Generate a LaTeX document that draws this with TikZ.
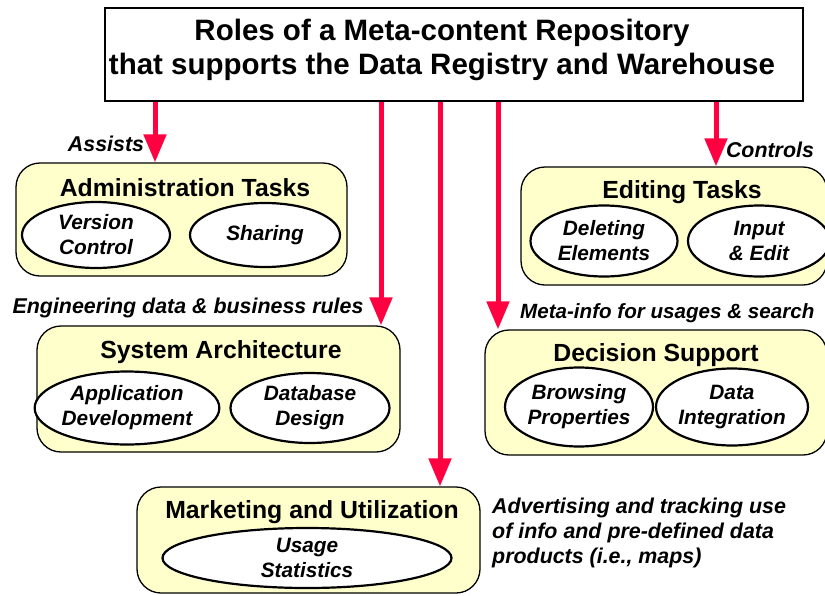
\documentclass[tikz,border=0pt]{standalone}
\usepackage{fontspec}
\setmainfont{Liberation Sans}
\usetikzlibrary{shapes.geometric,arrows.meta}
\definecolor{boxfill}{RGB}{255,255,204}
\definecolor{arrowred}{RGB}{255,0,64}
\begin{document}
\begin{tikzpicture}[x=1pt,y=-1pt,
  ttl/.style={font=\fontsize{29.5}{34}\selectfont\bfseries, align=center, inner sep=0},
  group/.style={draw=black, line width=1.3pt, fill=boxfill, rounded corners=24pt, inner sep=0},
  grouptitle/.style={font=\fontsize{24.8}{28}\selectfont\bfseries, inner sep=0},
  oval/.style={ellipse, draw=black, line width=2.2pt, fill=white, inner sep=0, align=center,
    font=\fontsize{20.8}{25}\selectfont\bfseries\itshape},
  lbl/.style={font=\fontsize{21.4}{25}\selectfont\bfseries\itshape, inner sep=0},
  redarrow/.style={draw=arrowred, line width=5pt, -{Triangle[length=28pt,width=22pt]}}]
\useasboundingbox (0,0) rectangle (825,595);
\fill[white] (0,0) rectangle (825,595);

% title
\node[draw=black, line width=1.3pt, fill=white, minimum width=698pt, minimum height=93pt, inner sep=0] (titlebox) at (454,54.5) {};
\node[ttl] (titletext) at (442,50) {Roles of a Meta-content Repository\\that supports the Data Registry and Warehouse};

% Administration
\node[group, minimum width=331pt, minimum height=113pt] (admin) at (181.5,219.5) {};
\node[grouptitle] (admint) at (185,188) {Administration Tasks};
\node[oval, minimum width=148pt, minimum height=66pt] (vc) at (96,235) {Version\\Control};
\node[oval, minimum width=150pt, minimum height=64pt] (sh) at (265,235) {Sharing};

% Editing
\node[group, minimum width=306pt, minimum height=118pt] (edit) at (674,226) {};
\node[grouptitle] (editt) at (682,192) {Editing Tasks};
\node[oval, minimum width=147pt, minimum height=71pt] (de) at (604,241) {Deleting\\Elements};
\node[oval, minimum width=142pt, minimum height=71pt] (ie) at (759,241) {Input\\\& Edit};

% System Architecture
\node[group, minimum width=363pt, minimum height=126pt] (sys) at (218.5,389) {};
\node[grouptitle] (syst) at (221,352) {System Architecture};
\node[oval, minimum width=170pt, minimum height=73pt] (ad) at (127,408) {Application\\Development};
\node[oval, minimum width=159pt, minimum height=70pt] (dd) at (310,408) {Database\\Design};

% Decision Support
\node[group, minimum width=342pt, minimum height=125pt] (dec) at (656,392.5) {};
\node[grouptitle] (dect) at (656,355) {Decision Support};
\node[oval, minimum width=148pt, minimum height=79pt] (bp) at (579,407) {Browsing\\Properties};
\node[oval, minimum width=149pt, minimum height=77pt] (di) at (732,407) {Data\\Integration};

% Marketing
\node[group, minimum width=343pt, minimum height=106pt] (mkt) at (308.5,540) {};
\node[grouptitle] (mktt) at (312,512) {Marketing and Utilization};
\node[oval, minimum width=289pt, minimum height=60pt] (us) at (307,558) {Usage\\Statistics};

% labels
\node[lbl] (l1) at (106,144) {Assists};
\node[lbl] (l2) at (770,150) {Controls};
\node[lbl] (l3) at (188,308) {Engineering data \& business rules};
\node[lbl, anchor=west, font=\fontsize{20.6}{25}\selectfont\bfseries\itshape] (l4) at (520,313) {Meta-info for usages \& search};
\node[lbl, anchor=north west, align=left] (l5) at (492,498) {Advertising and tracking use\\of info and pre-defined data\\products (i.e., maps)};

% arrows
\draw[redarrow] (titlebox.south -| 155,0) -- (admin.north -| 155,0);
\draw[redarrow] (titlebox.south -| 381,0) -- (sys.north -| 381,0);
\draw[redarrow] (titlebox.south -| 440,0) -- (mkt.north -| 440,0);
\draw[redarrow] (titlebox.south -| 498,0) -- (dec.north -| 498,0);
\draw[redarrow] (titlebox.south -| 716,0) -- (edit.north -| 716,0);
\end{tikzpicture}
\end{document}
